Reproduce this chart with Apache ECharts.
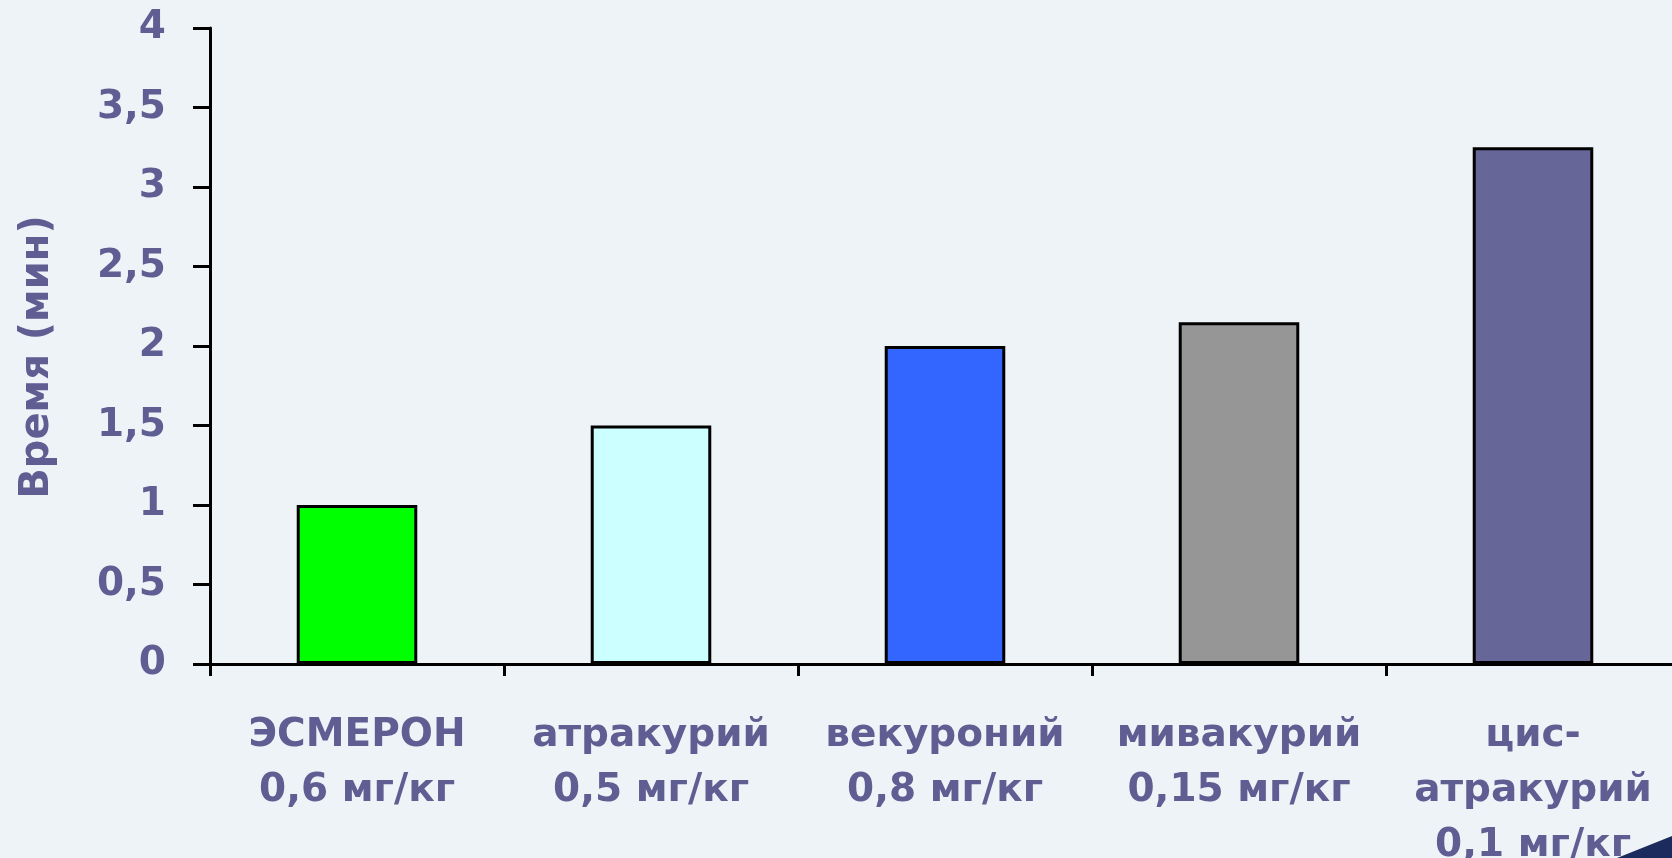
<!DOCTYPE html>
<html>
<head>
<meta charset="utf-8">
<script src="https://cdn.jsdelivr.net/npm/echarts@6/dist/echarts.min.js"></script>
<style>
  html, body { margin: 0; padding: 0; background: #eef3f8; }
  #chart { width: 1672px; height: 858px; }
</style>
</head>
<body>
<div id="chart"></div>
<script>
// data
var categories = [
  'ЭСМЕРОН\n0,6 мг/кг',
  'атракурий\n0,5 мг/кг',
  'векуроний\n0,8 мг/кг',
  'мивакурий\n0,15 мг/кг',
  'цис-\nатракурий\n0,1 мг/кг'
]
var times = [1.0, 1.5, 2.0, 2.15, 3.25]
var barColors = ['#00ff00', '#ccffff', '#3366ff', '#969696', '#666699']
var yTicks = ['0', '0,5', '1', '1,5', '2', '2,5', '3', '3,5', '4']

var textColor = '#5e5e92'
var font = 'DejaVu Sans'

var chart = echarts.init(document.getElementById('chart'))
chart.setOption({
  backgroundColor: '#eef3f8',
  animation: false,
  grid: {
    left: 210,
    top: 28,
    width: 1470,
    height: 636,
    outerBoundsMode: 'none'
  },
  xAxis: {
    type: 'category',
    data: categories,
    axisLine: { lineStyle: { color: '#000', width: 3 } },
    axisTick: { show: true, length: 12, lineStyle: { color: '#000', width: 3 } },
    axisLabel: {
      interval: 0,
      margin: 44,
      color: textColor,
      fontFamily: font,
      fontWeight: 'bold',
      fontSize: 39,
      lineHeight: 55
    }
  },
  yAxis: {
    type: 'value',
    min: 0,
    max: 4,
    interval: 0.5,
    name: 'Время (мин)',
    nameLocation: 'middle',
    nameGap: 152,
    nameTextStyle: {
      color: textColor,
      fontFamily: font,
      fontWeight: 'bold',
      fontSize: 40,
      padding: [0, 22, 0, 0]
    },
    splitLine: { show: false },
    axisLine: { show: true, lineStyle: { color: '#000', width: 3 } },
    axisTick: { show: true, length: 17, lineStyle: { color: '#000', width: 3 } },
    axisLabel: {
      margin: 44,
      color: textColor,
      fontFamily: font,
      fontWeight: 'bold',
      fontSize: 39,
      formatter: function (v) {
        return yTicks[Math.round(v * 2)]
      }
    }
  },
  series: [{
    type: 'bar',
    barWidth: '41%',
    data: times.map(function (v, i) {
      return {
        value: v,
        itemStyle: { color: barColors[i], borderColor: '#000', borderWidth: 3 }
      }
    })
  }],
  graphic: [{
    type: 'polygon',
    shape: { points: [[1617, 858], [1672, 836], [1672, 858]] },
    style: { fill: '#1c2b5e' }
  }]
})
</script>
</body>
</html>
